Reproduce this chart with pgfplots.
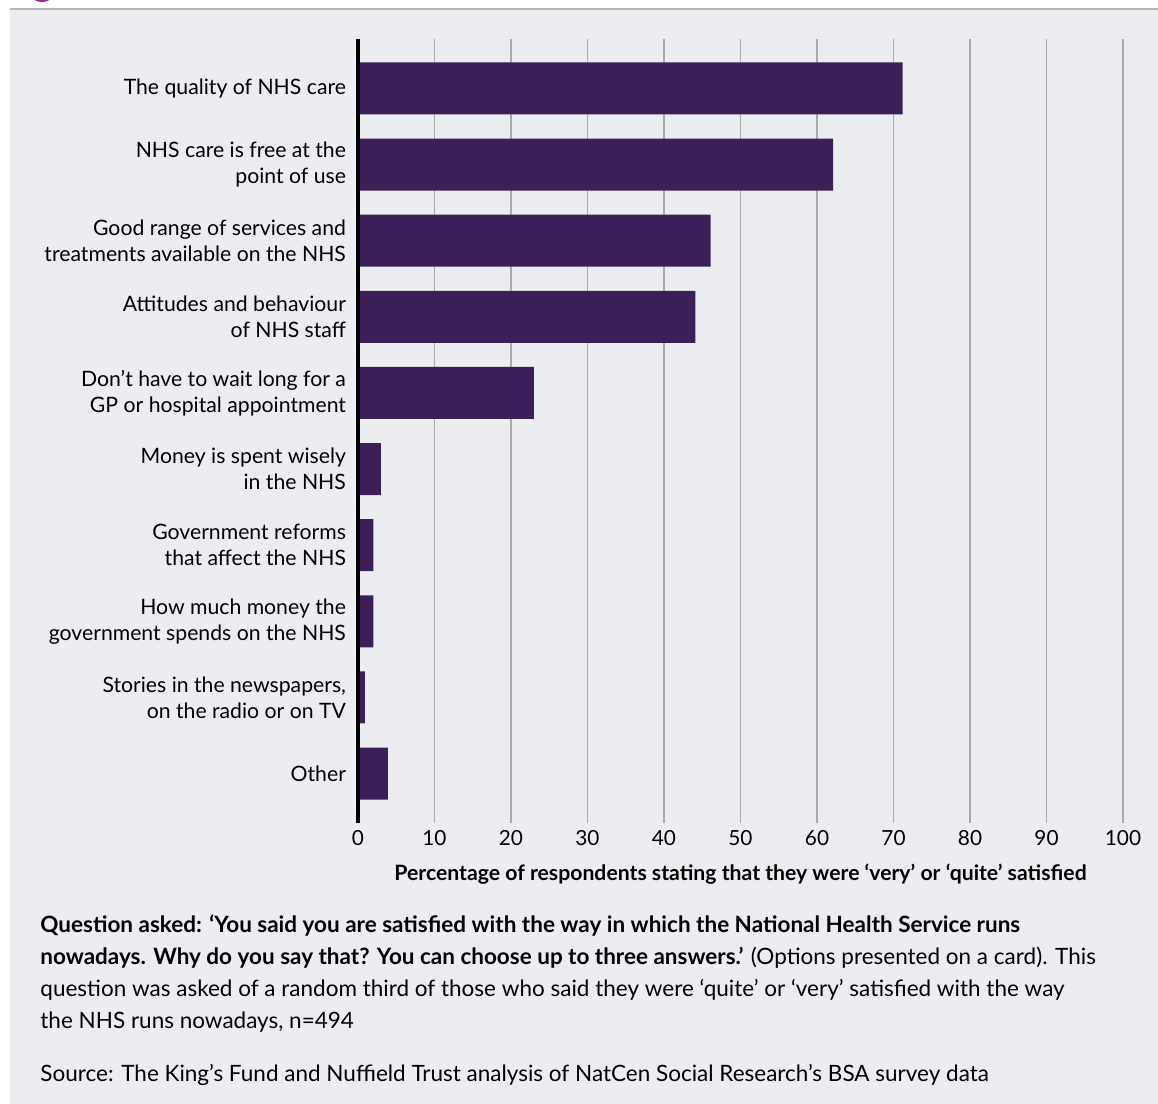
\documentclass[border=0pt]{standalone}
\usepackage{fontspec}
\setmainfont{Lato}
\usepackage{pgfplots}
\pgfplotsset{compat=1.18}
\definecolor{bg}{RGB}{236,237,240}
\definecolor{barpurple}{RGB}{60,31,89}
\definecolor{gridgray}{RGB}{170,170,170}
\definecolor{topline}{RGB}{180,180,180}
\definecolor{dotmag}{RGB}{150,40,150}
\begin{document}
\begin{tikzpicture}
\fill[white] (0,0) rectangle (579pt,-552pt);
\fill[bg] (5pt,-5pt) rectangle (579pt,-552pt);
\draw[topline, line width=1pt] (5pt,-4.5pt) -- (579pt,-4.5pt);
\fill[dotmag] (21pt,6.5pt) circle (7.5pt);
\begin{axis}[
  at={(179pt,-411.5pt)}, anchor=south west,
  scale only axis, width=382.5pt, height=392pt,
  xmin=0, xmax=100, ymin=-0.65, ymax=9.65, y dir=reverse,
  clip=false,
  xbar, bar width=26pt, bar shift=0pt,
  xtick={0,10,...,100}, ytick={0,...,9},
  yticklabels={{The quality of NHS care},{NHS care is free at the\\point of use},{Good range of services and\\treatments available on the NHS},{Attitudes and behaviour\\of NHS staff},{Don’t have to wait long for a\\GP or hospital appointment},{Money is spent wisely\\in the NHS},{Government reforms\\that affect the NHS},{How much money the\\government spends on the NHS},{Stories in the newspapers,\\on the radio or on TV},{Other}},
  yticklabel style={align=right, font=\fontsize{10.6}{13}\selectfont, xshift=-2.5pt},
  xticklabel style={font=\fontsize{10.4}{12}\selectfont},
  /pgf/number format/assume math mode=true,
  xmajorgrids, grid style={draw=gridgray, line width=0.75pt},
  axis line style={draw=none},
  major tick length=0pt, tick style={draw=none},
  xlabel={Percentage of respondents stating that they were ‘very’ or ‘quite’ satisfied},
  xlabel style={font=\bfseries\fontsize{10.6}{12}\selectfont, at={(axis description cs:0.5,0)}, anchor=base, yshift=-28.5pt},
]
\addplot[fill=barpurple, draw=none] coordinates {
(71.2,0) (62.1,1) (46.1,2) (44.1,3) (23,4) (3,5) (2,6) (2,7) (0.9,8) (3.9,9)};
\draw[black, line width=2pt] (axis cs:0,-0.65) -- (axis cs:0,9.65);
\end{axis}
\begin{scope}[font=\fontsize{11.25}{16}\selectfont]
\node[anchor=base west, inner sep=0pt] at (20pt,-466pt) {\textbf{Question asked: ‘You said you are satisfied with the way in which the National Health Service runs}};
\node[anchor=base west, inner sep=0pt] at (20pt,-482pt) {\textbf{nowadays. Why do you say that? You can choose up to three answers.’} (Options presented on a card). This};
\node[anchor=base west, inner sep=0pt] at (20pt,-498pt) {question was asked of a random third of those who said they were ‘quite’ or ‘very’ satisfied with the way};
\node[anchor=base west, inner sep=0pt] at (20pt,-514pt) {the NHS runs nowadays, n=494};
\node[anchor=base west, inner sep=0pt] at (20pt,-540.5pt) {Source: The King’s Fund and Nuffield Trust analysis of NatCen Social Research’s BSA survey data};
\end{scope}
\pgfresetboundingbox
\useasboundingbox (0,0) rectangle (579pt,-552pt);
\end{tikzpicture}
\end{document}
